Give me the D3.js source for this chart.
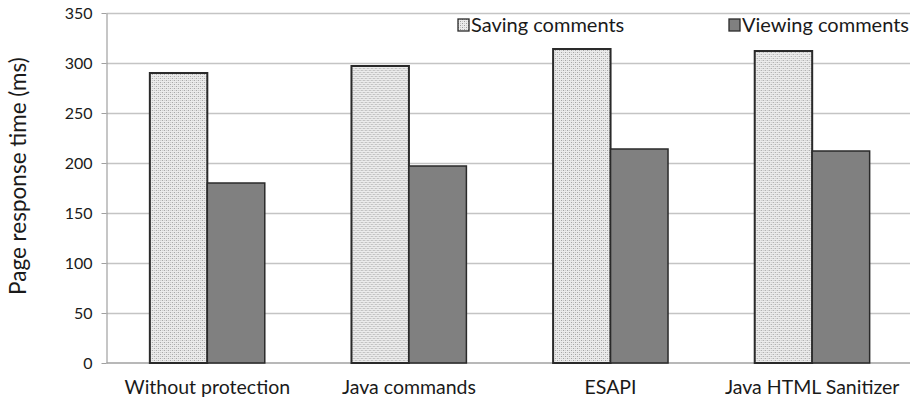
<!DOCTYPE html>
<html>
<head>
<meta charset="utf-8">
<script src="https://cdn.jsdelivr.net/npm/d3@7"></script>
<style>
  html, body { margin: 0; padding: 0; background: #fff; }
  svg { display: block; }
  text { font-family: Lato, "Open Sans", sans-serif; fill: #1a1a1a; }
</style>
</head>
<body>
<svg id="chart" width="913" height="402"></svg>
<script>
// Page response time per protection approach
const categories = ["Without protection", "Java commands", "ESAPI", "Java HTML Sanitizer"];
const seriesNames = ["Saving comments", "Viewing comments"];
const savingValues = [290, 297, 314, 312];
const viewingValues = [180, 197, 214, 212];
const yTicks = [0, 50, 100, 150, 200, 250, 300, 350];

const rows = categories.map((c, i) => ({ category: c, values: [savingValues[i], viewingValues[i]] }));

const svg = d3.select("#chart");
const width = 913, height = 402;
const margin = { top: 13, right: 0, bottom: 39, left: 106.5 };

const x = d3.scaleBand()
  .domain(categories)
  .range([margin.left, width - margin.right])
  .paddingInner(0.43)
  .paddingOuter(0.215);

const xInner = d3.scaleBand()
  .domain(seriesNames)
  .range([0, x.bandwidth()]);

const y = d3.scaleLinear()
  .domain([0, 350])
  .range([height - margin.bottom, margin.top]);

// Dotted fill for the first series
const defs = svg.append("defs");
const pat = defs.append("pattern")
  .attr("id", "dots")
  .attr("patternUnits", "userSpaceOnUse")
  .attr("width", 4).attr("height", 4);
pat.append("rect").attr("width", 4).attr("height", 4).attr("fill", "#ececec");
pat.append("rect").attr("x", 0).attr("y", 0).attr("width", 1).attr("height", 1).attr("fill", "#9c9c9c");
pat.append("rect").attr("x", 2).attr("y", 2).attr("width", 1).attr("height", 1).attr("fill", "#9c9c9c");
pat.append("rect").attr("x", 2).attr("y", 0).attr("width", 1).attr("height", 1).attr("fill", "#cbcbcb");
pat.append("rect").attr("x", 0).attr("y", 2).attr("width", 1).attr("height", 1).attr("fill", "#cbcbcb");

const fills = ["url(#dots)", "#808080"];

// Horizontal gridlines
svg.append("g")
  .selectAll("line")
  .data(yTicks.filter(t => t > 0))
  .join("line")
  .attr("x1", margin.left).attr("x2", width - 3)
  .attr("y1", d => Math.round(y(d)) + 0.5).attr("y2", d => Math.round(y(d)) + 0.5)
  .attr("stroke", "#c4c4c4").attr("stroke-width", 1.6);

// Y axis
const yAxis = svg.append("g")
  .attr("transform", `translate(${margin.left},0)`)
  .call(d3.axisLeft(y).tickValues(yTicks).tickSize(5).tickPadding(9).tickSizeOuter(0));
yAxis.select(".domain").attr("stroke", "#a0a0a0").attr("stroke-width", 1.2);
yAxis.selectAll(".tick line").attr("stroke", "#a0a0a0");
yAxis.selectAll(".tick text")
  .style("font-family", "Lato, sans-serif").style("font-size", "16px").attr("fill", "#1a1a1a");

// Baseline
svg.append("line")
  .attr("x1", margin.left).attr("x2", width - 3)
  .attr("y1", y(0)).attr("y2", y(0))
  .attr("stroke", "#a0a0a0").attr("stroke-width", 1.6);

// Bars
const groups = svg.append("g")
  .selectAll("g")
  .data(rows)
  .join("g")
  .attr("transform", d => `translate(${x(d.category)},0)`);

groups.selectAll("rect")
  .data(d => d.values.map((v, i) => ({ name: seriesNames[i], value: v, i })))
  .join("rect")
  .attr("x", d => xInner(d.name))
  .attr("width", xInner.bandwidth())
  .attr("y", d => y(d.value))
  .attr("height", d => y(0) - y(d.value))
  .attr("fill", d => fills[d.i])
  .attr("stroke", "#2a2a2a")
  .attr("stroke-width", d => d.i === 0 ? 2 : 1.5);

// Category labels
svg.append("g")
  .selectAll("text")
  .data(categories)
  .join("text")
  .attr("x", d => x(d) + x.bandwidth() / 2)
  .attr("y", 394)
  .attr("text-anchor", "middle")
  .style("font-size", "19.5px")
  .text(d => d);

// Y axis title
svg.append("text")
  .attr("transform", `translate(25.5,${(margin.top + y(0)) / 2 - 12}) rotate(-90)`)
  .attr("text-anchor", "middle")
  .style("font-size", "22.5px")
  .text("Page response time (ms)");

// Legend
const legendX = [458, 729];
const legend = svg.append("g")
  .selectAll("g")
  .data(seriesNames)
  .join("g")
  .attr("transform", (d, i) => `translate(${legendX[i]},19)`);
legend.append("rect")
  .attr("width", 11).attr("height", 12)
  .attr("fill", (d, i) => fills[i])
  .attr("stroke", "#2a2a2a").attr("stroke-width", 1.3);
legend.append("text")
  .attr("x", 13).attr("y", 12.5)
  .style("font-size", "20px")
  .text(d => d);
</script>
</body>
</html>
